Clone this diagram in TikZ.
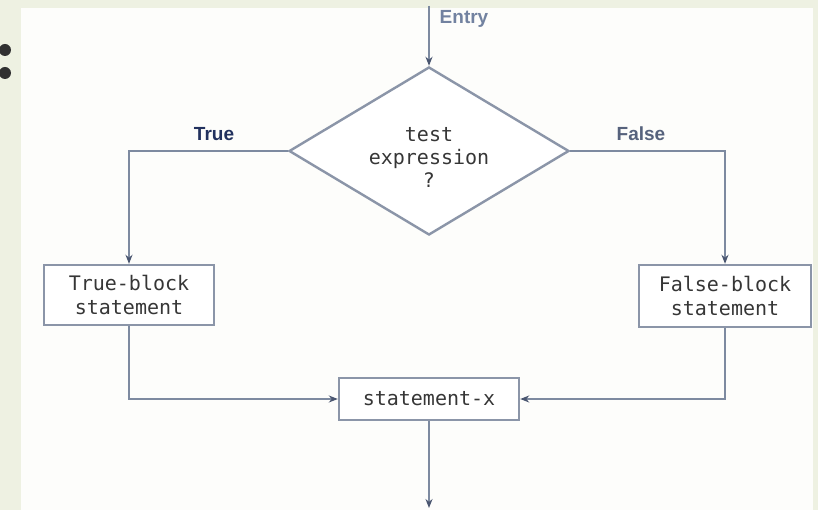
\documentclass[tikz,border=0pt]{standalone}
\usepackage{fontspec}
\setmainfont{Liberation Sans}
\newfontfamily\monof{DejaVu Sans Mono}
\usetikzlibrary{shapes.geometric,arrows.meta}

\definecolor{pagebg}{HTML}{EEF1E2}
\definecolor{sheet}{HTML}{FDFDFB}
\definecolor{wire}{HTML}{7D8AA0}
\definecolor{tipc}{HTML}{4A5670}
\definecolor{rim}{HTML}{8B95A8}
\definecolor{ink}{HTML}{363636}
\definecolor{truec}{HTML}{22315E}
\definecolor{falsec}{HTML}{56627C}
\definecolor{entryc}{HTML}{7282A0}

\tikzset{
  wireline/.style={draw=wire, line width=2pt,
    -{Stealth[length=9pt,width=7pt,color=tipc]}},
  blockbox/.style={draw=rim, fill=white, line width=2.4pt, inner sep=0pt,
    align=center, font=\monof\fontsize{20}{24}\selectfont, text=ink},
  decision/.style={diamond, draw=rim, fill=white, line width=2.4pt,
    inner sep=0pt, shape aspect=1.67, minimum width=280pt, minimum height=168pt},
  branchlabel/.style={font=\bfseries\fontsize{19}{22}\selectfont},
}

\begin{document}
\begin{tikzpicture}[x=1pt, y=-1pt]
  % page and the white sheet
  \fill[pagebg] (0,0) rectangle (818,510);
  \fill[sheet] (21,8) rectangle (813,510);
  \useasboundingbox (0,0) rectangle (818,510);

  % bullet marks at the left edge
  \fill[ink!90!black] (5,50) circle (6);
  \fill[ink!90!black] (5,73) circle (6);

  % decision and blocks
  \node[decision] (dia) at (429,151) {};
  \node[align=center, font=\monof\fontsize{20}{23}\selectfont, text=ink]
    (dtext) at (429,157) {test\\expression\\?};

  \node[blockbox, minimum width=170pt, minimum height=60pt] (tb) at (129,295)
    {True-block\\statement};
  \node[blockbox, minimum width=172pt, minimum height=62pt] (fb) at (725,296)
    {False-block\\statement};
  \node[blockbox, minimum width=180pt, minimum height=42pt] (sx) at (429,399)
    {statement-x};

  % free ends of the entry and exit lines
  \coordinate (entrytop) at (429,6);
  \coordinate (exitend) at (429,508);

  % labels
  \node[branchlabel, text=entryc] (entrylbl) at (464,19) {Entry};
  \node[branchlabel, text=truec] (truelbl) at (214,134) {True};
  \node[branchlabel, text=falsec] (falselbl) at (641,134) {False};

  % connectors
  \draw[wireline] (entrytop) -- (dia.north);
  \draw[wireline] (dia.west) -| (tb.north);
  \draw[wireline] (dia.east) -| (fb.north);
  \draw[wireline] (tb.south) |- (sx.west);
  \draw[wireline] (fb.south) |- (sx.east);
  \draw[wireline] (sx.south) -- (exitend);
\end{tikzpicture}
\end{document}
